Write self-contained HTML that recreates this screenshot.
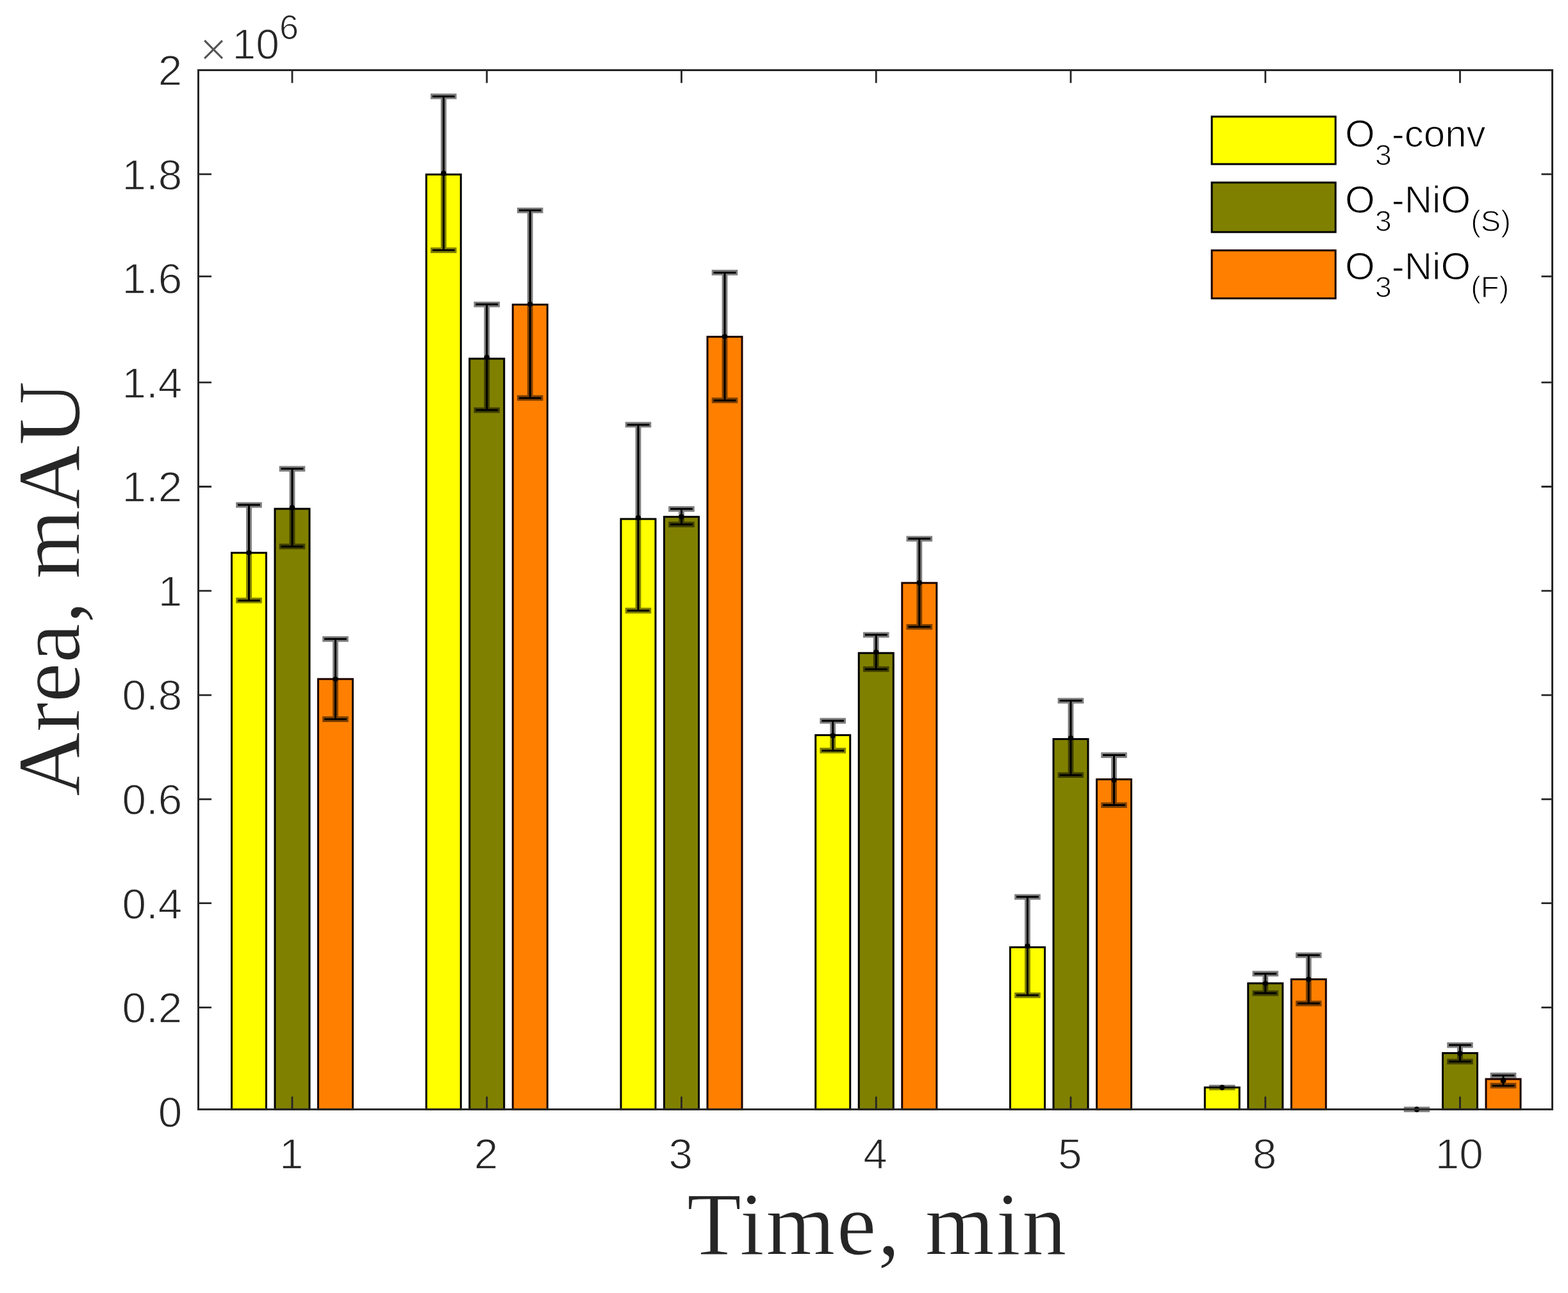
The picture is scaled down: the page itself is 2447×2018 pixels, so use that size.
<!DOCTYPE html>
<html><head><meta charset="utf-8"><title>Area vs Time</title>
<style>html,body{margin:0;padding:0;background:#fff;width:2447px;height:2018px;overflow:hidden}svg{display:block}</style>
</head><body>
<svg width="2447" height="2018" viewBox="0 0 2447 2018">
<rect x="0" y="0" width="2447" height="2018" fill="#ffffff"/>
<rect x="361.50" y="862.80" width="54" height="868.60" fill="#ffff00" stroke="#000000" stroke-width="3"/>
<rect x="429.00" y="794.10" width="54" height="937.30" fill="#808000" stroke="#000000" stroke-width="3"/>
<rect x="496.50" y="1059.80" width="54" height="671.60" fill="#ff8000" stroke="#1a0200" stroke-width="3"/>
<rect x="665.25" y="272.30" width="54" height="1459.10" fill="#ffff00" stroke="#000000" stroke-width="3"/>
<rect x="732.75" y="559.80" width="54" height="1171.60" fill="#808000" stroke="#000000" stroke-width="3"/>
<rect x="800.25" y="475.40" width="54" height="1256.00" fill="#ff8000" stroke="#1a0200" stroke-width="3"/>
<rect x="969.00" y="810.00" width="54" height="921.40" fill="#ffff00" stroke="#000000" stroke-width="3"/>
<rect x="1036.50" y="806.60" width="54" height="924.80" fill="#808000" stroke="#000000" stroke-width="3"/>
<rect x="1104.00" y="525.60" width="54" height="1205.80" fill="#ff8000" stroke="#1a0200" stroke-width="3"/>
<rect x="1272.75" y="1147.30" width="54" height="584.10" fill="#ffff00" stroke="#000000" stroke-width="3"/>
<rect x="1340.25" y="1019.20" width="54" height="712.20" fill="#808000" stroke="#000000" stroke-width="3"/>
<rect x="1407.75" y="909.80" width="54" height="821.60" fill="#ff8000" stroke="#1a0200" stroke-width="3"/>
<rect x="1576.50" y="1478.40" width="54" height="253.00" fill="#ffff00" stroke="#000000" stroke-width="3"/>
<rect x="1644.00" y="1153.50" width="54" height="577.90" fill="#808000" stroke="#000000" stroke-width="3"/>
<rect x="1711.50" y="1216.30" width="54" height="515.10" fill="#ff8000" stroke="#1a0200" stroke-width="3"/>
<rect x="1880.25" y="1697.20" width="54" height="34.20" fill="#ffff00" stroke="#000000" stroke-width="3"/>
<rect x="1947.75" y="1534.70" width="54" height="196.70" fill="#808000" stroke="#000000" stroke-width="3"/>
<rect x="2015.25" y="1528.40" width="54" height="203.00" fill="#ff8000" stroke="#1a0200" stroke-width="3"/>
<rect x="2251.50" y="1643.60" width="54" height="87.80" fill="#808000" stroke="#000000" stroke-width="3"/>
<rect x="2319.00" y="1684.10" width="54" height="47.30" fill="#ff8000" stroke="#1a0200" stroke-width="3"/>
<path d="M456.00 1731.4V1711.4M456.00 109.5V129.5M759.75 1731.4V1711.4M759.75 109.5V129.5M1063.50 1731.4V1711.4M1063.50 109.5V129.5M1367.25 1731.4V1711.4M1367.25 109.5V129.5M1671.00 1731.4V1711.4M1671.00 109.5V129.5M1974.75 1731.4V1711.4M1974.75 109.5V129.5M2278.50 1731.4V1711.4M2278.50 109.5V129.5M309.5 1572.4H330.0M2422.5 1572.4H2405.5M309.5 1409.7H330.0M2422.5 1409.7H2405.5M309.5 1247.3H330.0M2422.5 1247.3H2405.5M309.5 1084.8H330.0M2422.5 1084.8H2405.5M309.5 922.1H330.0M2422.5 922.1H2405.5M309.5 759.5H330.0M2422.5 759.5H2405.5M309.5 596.9H330.0M2422.5 596.9H2405.5M309.5 431.3H330.0M2422.5 431.3H2405.5M309.5 271.9H330.0M2422.5 271.9H2405.5" stroke="#262626" stroke-width="2.8" fill="none"/>
<path d="M388.50 788.10V937.20M368.20 788.10H408.80M368.20 937.20H408.80M456.00 731.60V852.90M435.70 731.60H476.30M435.70 852.90H476.30M523.50 997.30V1122.50M503.20 997.30H543.80M503.20 1122.50H543.80M692.25 150.40V390.60M671.95 150.40H712.55M671.95 390.60H712.55M759.75 475.10V640.10M739.45 475.10H780.05M739.45 640.10H780.05M827.25 328.30V621.20M806.95 328.30H847.55M806.95 621.20H847.55M996.00 662.90V953.00M975.70 662.90H1016.30M975.70 953.00H1016.30M1063.50 794.30V818.60M1043.20 794.30H1083.80M1043.20 818.60H1083.80M1131.00 425.40V624.90M1110.70 425.40H1151.30M1110.70 624.90H1151.30M1299.75 1125.00V1171.40M1279.45 1125.00H1320.05M1279.45 1171.40H1320.05M1367.25 990.80V1044.40M1346.95 990.80H1387.55M1346.95 1044.40H1387.55M1434.75 840.80V978.30M1414.45 840.80H1455.05M1414.45 978.30H1455.05M1603.50 1399.80V1553.30M1583.20 1399.80H1623.80M1583.20 1553.30H1623.80M1671.00 1093.60V1209.70M1650.70 1093.60H1691.30M1650.70 1209.70H1691.30M1738.50 1178.60V1256.60M1718.20 1178.60H1758.80M1718.20 1256.60H1758.80M1974.75 1519.70V1550.10M1954.45 1519.70H1995.05M1954.45 1550.10H1995.05M2042.25 1490.80V1566.10M2021.95 1490.80H2062.55M2021.95 1566.10H2062.55M2278.50 1631.10V1656.80M2258.20 1631.10H2298.80M2258.20 1656.80H2298.80M2346.00 1678.40V1694.40M2325.70 1678.40H2366.30M2325.70 1694.40H2366.30" stroke="#000" stroke-opacity="0.5" stroke-width="8.8" fill="none"/>
<path d="M1886.95 1694.50H1927.55M1886.95 1700.00H1927.55M2190.70 1728.60H2231.30M2190.70 1734.30H2231.30" stroke="#000" stroke-opacity="0.5" stroke-width="2.8" fill="none"/>
<path d="M388.50 788.10V937.20M371.10 788.10H405.90M371.10 937.20H405.90M456.00 731.60V852.90M438.60 731.60H473.40M438.60 852.90H473.40M523.50 997.30V1122.50M506.10 997.30H540.90M506.10 1122.50H540.90M692.25 150.40V390.60M674.85 150.40H709.65M674.85 390.60H709.65M759.75 475.10V640.10M742.35 475.10H777.15M742.35 640.10H777.15M827.25 328.30V621.20M809.85 328.30H844.65M809.85 621.20H844.65M996.00 662.90V953.00M978.60 662.90H1013.40M978.60 953.00H1013.40M1063.50 794.30V818.60M1046.10 794.30H1080.90M1046.10 818.60H1080.90M1131.00 425.40V624.90M1113.60 425.40H1148.40M1113.60 624.90H1148.40M1299.75 1125.00V1171.40M1282.35 1125.00H1317.15M1282.35 1171.40H1317.15M1367.25 990.80V1044.40M1349.85 990.80H1384.65M1349.85 1044.40H1384.65M1434.75 840.80V978.30M1417.35 840.80H1452.15M1417.35 978.30H1452.15M1603.50 1399.80V1553.30M1586.10 1399.80H1620.90M1586.10 1553.30H1620.90M1671.00 1093.60V1209.70M1653.60 1093.60H1688.40M1653.60 1209.70H1688.40M1738.50 1178.60V1256.60M1721.10 1178.60H1755.90M1721.10 1256.60H1755.90M1907.25 1693.50V1701.00M1974.75 1519.70V1550.10M1957.35 1519.70H1992.15M1957.35 1550.10H1992.15M2042.25 1490.80V1566.10M2024.85 1490.80H2059.65M2024.85 1566.10H2059.65M2211.00 1727.60V1735.30M2278.50 1631.10V1656.80M2261.10 1631.10H2295.90M2261.10 1656.80H2295.90M2346.00 1678.40V1694.40M2328.60 1678.40H2363.40M2328.60 1694.40H2363.40" stroke="#000" stroke-width="3" fill="none"/>
<circle cx="388.50" cy="862.65" r="4.2" fill="#000"/><circle cx="456.00" cy="792.25" r="4.2" fill="#000"/><circle cx="523.50" cy="1059.90" r="4.2" fill="#000"/><circle cx="692.25" cy="270.50" r="4.2" fill="#000"/><circle cx="759.75" cy="557.60" r="4.2" fill="#000"/><circle cx="827.25" cy="474.75" r="4.2" fill="#000"/><circle cx="996.00" cy="807.95" r="4.2" fill="#000"/><circle cx="1063.50" cy="806.45" r="4.2" fill="#000"/><circle cx="1131.00" cy="525.15" r="4.2" fill="#000"/><circle cx="1299.75" cy="1148.20" r="4.2" fill="#000"/><circle cx="1367.25" cy="1017.60" r="4.2" fill="#000"/><circle cx="1434.75" cy="909.55" r="4.2" fill="#000"/><circle cx="1603.50" cy="1476.55" r="4.2" fill="#000"/><circle cx="1671.00" cy="1151.65" r="4.2" fill="#000"/><circle cx="1738.50" cy="1217.60" r="4.2" fill="#000"/><circle cx="1907.25" cy="1697.25" r="4.2" fill="#000"/><circle cx="1974.75" cy="1534.90" r="4.2" fill="#000"/><circle cx="2042.25" cy="1528.45" r="4.2" fill="#000"/><circle cx="2211.00" cy="1731.45" r="4.2" fill="#000"/><circle cx="2278.50" cy="1643.95" r="4.2" fill="#000"/><circle cx="2346.00" cy="1686.40" r="4.2" fill="#000"/>
<rect x="309.5" y="109.5" width="2113.0" height="1621.9" fill="none" stroke="#262626" stroke-width="3"/>
<g font-family="Liberation Sans, Arial, Helvetica, sans-serif" font-size="67.5" fill="#262626" stroke="#fff" stroke-width="1.3" text-anchor="end">
<text x="284.3" y="1758.6">0</text>
<text x="284.3" y="1596.0">0.2</text>
<text x="284.3" y="1433.5">0.4</text>
<text x="284.3" y="1270.9">0.6</text>
<text x="284.3" y="1108.4">0.8</text>
<text x="284.3" y="945.8">1</text>
<text x="284.3" y="783.2">1.2</text>
<text x="284.3" y="620.7">1.4</text>
<text x="284.3" y="458.1">1.6</text>
<text x="284.3" y="295.6">1.8</text>
<text x="284.3" y="133.0">2</text>
</g>
<g font-family="Liberation Sans, Arial, Helvetica, sans-serif" font-size="67.5" fill="#262626" stroke="#fff" stroke-width="1.3" text-anchor="middle">
<text x="454.80" y="1824.3">1</text>
<text x="758.55" y="1824.3">2</text>
<text x="1062.30" y="1824.3">3</text>
<text x="1366.05" y="1824.3">4</text>
<text x="1669.80" y="1824.3">5</text>
<text x="1973.55" y="1824.3">8</text>
<text x="2277.30" y="1824.3">10</text>
</g>
<text x="311.5" y="102" font-family="Liberation Sans, Arial, Helvetica, sans-serif" font-size="74" fill="#555555" stroke="#fff" stroke-width="2">×</text>
<text x="362.6" y="92.3" font-family="Liberation Sans, Arial, Helvetica, sans-serif" font-size="66" fill="#262626" stroke="#fff" stroke-width="1.3">10</text>
<text x="436" y="61" font-family="Liberation Sans, Arial, Helvetica, sans-serif" font-size="54" fill="#262626" stroke="#fff" stroke-width="1.1">6</text>
<text x="1072" y="1957.8" font-family="Liberation Serif, Times New Roman, serif" font-size="139" letter-spacing="2.3" fill="#262626" stroke="#fff" stroke-width="1.2">Time, min</text>
<text transform="translate(124,1243) rotate(-90)" x="0" y="0" font-family="Liberation Serif, Times New Roman, serif" font-size="139" fill="#262626" stroke="#fff" stroke-width="1.2">Area, mAU</text>
<rect x="1891.1" y="182.0" width="193.1" height="74.1" fill="#ffff00" stroke="#000000" stroke-width="3"/>
<rect x="1891.1" y="284.9" width="193.1" height="77.3" fill="#808000" stroke="#000000" stroke-width="3"/>
<rect x="1891.1" y="390.8" width="193.1" height="74.9" fill="#ff8000" stroke="#1a0200" stroke-width="3"/>
<text font-family="Liberation Sans, Arial, Helvetica, sans-serif" fill="#000000" stroke="#fff" stroke-width="1.2"><tspan x="2099" y="229.2" font-size="60">O</tspan><tspan font-size="47" dy="28.3">3</tspan><tspan font-size="60" dy="-28.3">-conv</tspan></text>
<text font-family="Liberation Sans, Arial, Helvetica, sans-serif" fill="#000000" stroke="#fff" stroke-width="1.2"><tspan x="2099" y="332.2" font-size="60">O</tspan><tspan font-size="47" dy="28.3">3</tspan><tspan font-size="60" dy="-28.3">-NiO</tspan><tspan font-size="47" dy="28.3">(S)</tspan></text>
<text font-family="Liberation Sans, Arial, Helvetica, sans-serif" fill="#000000" stroke="#fff" stroke-width="1.2"><tspan x="2099" y="435.8" font-size="60">O</tspan><tspan font-size="47" dy="28.3">3</tspan><tspan font-size="60" dy="-28.3">-NiO</tspan><tspan font-size="47" dy="28.3">(F)</tspan></text>
</svg>
</body></html>
